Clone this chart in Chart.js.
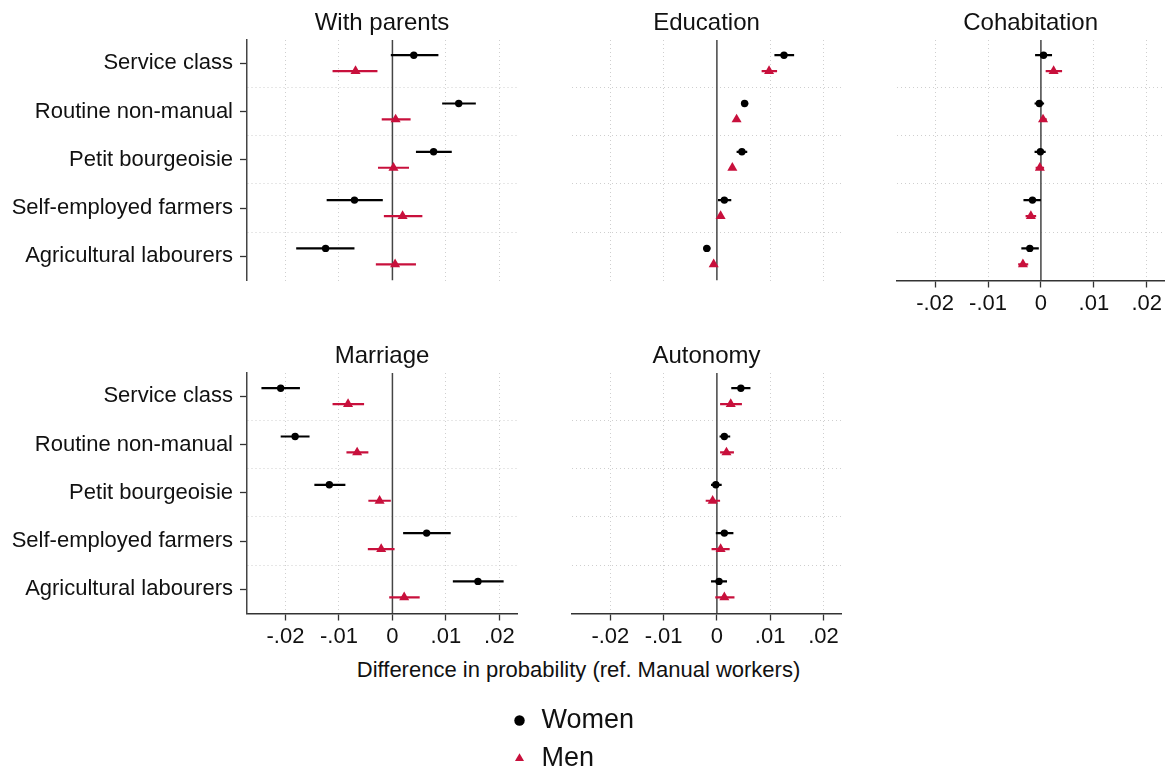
<!DOCTYPE html>
<html>
<head>
<meta charset="utf-8">
<script src="https://cdn.jsdelivr.net/npm/chart.js@4"></script>
<style>
  body { margin: 0; background: #fff; overflow: hidden; width: 1170px; height: 769px; position: relative; font-family: "Liberation Sans", Arial, sans-serif; }
  .panel { position: absolute; }
  #xtitle { position: absolute; left: 0; top: 657px; width: 1157px; text-align: center; font-size: 22px; line-height: 26px; color: #111; white-space: nowrap; }
</style>
</head>
<body>
<div class="panel" style="left:0px;top:0px;width:530px;height:320px"><canvas id="p1"></canvas></div>
<div class="panel" style="left:560px;top:0px;width:290px;height:320px"><canvas id="p2"></canvas></div>
<div class="panel" style="left:885px;top:0px;width:285px;height:320px"><canvas id="p3"></canvas></div>
<div class="panel" style="left:0px;top:333px;width:530px;height:320px"><canvas id="p4"></canvas></div>
<div class="panel" style="left:560px;top:333px;width:290px;height:320px"><canvas id="p5"></canvas></div>
<div id="xtitle">Difference in probability (ref. Manual workers)</div>
<div class="panel" style="left:500px;top:696px;width:200px;height:200px"><canvas id="lg"></canvas></div>
<script>
const categories = ['Service class', 'Routine non-manual', 'Petit bourgeoisie', 'Self-employed farmers', 'Agricultural labourers'];
const xTicks = [-0.02, -0.01, 0, 0.01, 0.02];
const xTickLabels = ['-.02', '-.01', '0', '.01', '.02'];
const yGrid = [0.5, 1.5, 2.5, 3.5];
const xMin = -0.0272, xMax = 0.0233;
const yMin = -0.48, yMax = 4.5;

// With parents
const parentsW   = [0.0040, 0.0124, 0.0077, -0.0071, -0.0125];
const parentsWLo = [-0.0003, 0.0093, 0.0044, -0.0123, -0.0180];
const parentsWHi = [0.0086, 0.0156, 0.0111, -0.0018, -0.0071];
const parentsM   = [-0.0069, 0.0006, 0.0002, 0.0019, 0.0005];
const parentsMLo = [-0.0112, -0.0020, -0.0027, -0.0016, -0.0031];
const parentsMHi = [-0.0028, 0.0034, 0.0031, 0.0056, 0.0044];

// Education
const eduW   = [0.0126, 0.0052, 0.0047, 0.0014, -0.0019];
const eduWLo = [0.0108, 0.0046, 0.0037, 0.0002, -0.0025];
const eduWHi = [0.0145, 0.0059, 0.0057, 0.0027, -0.0012];
const eduM   = [0.0098, 0.0037, 0.0029, 0.0007, -0.0006];
const eduMLo = [0.0084, 0.0033, 0.0025, 0.0004, -0.0009];
const eduMHi = [0.0113, 0.0041, 0.0033, 0.0010, -0.0003];

// Cohabitation
const cohW   = [0.0005, -0.0003, -0.0001, -0.0016, -0.0021];
const cohWLo = [-0.0011, -0.0012, -0.0012, -0.0033, -0.0037];
const cohWHi = [0.0021, 0.0006, 0.0009, 0.0000, -0.0004];
const cohM   = [0.0024, 0.0004, -0.0002, -0.0019, -0.0034];
const cohMLo = [0.0009, -0.0001, -0.0010, -0.0029, -0.0043];
const cohMHi = [0.0040, 0.0011, 0.0006, -0.0009, -0.0024];

// Marriage
const marW   = [-0.0209, -0.0182, -0.0118, 0.0064, 0.0160];
const marWLo = [-0.0245, -0.0209, -0.0146, 0.0020, 0.0113];
const marWHi = [-0.0173, -0.0155, -0.0088, 0.0109, 0.0208];
const marM   = [-0.0083, -0.0066, -0.0024, -0.0021, 0.0022];
const marMLo = [-0.0112, -0.0086, -0.0045, -0.0046, -0.0006];
const marMHi = [-0.0053, -0.0045, -0.0003, 0.0004, 0.0051];

// Autonomy
const autW   = [0.0045, 0.0014, -0.0002, 0.0014, 0.0004];
const autWLo = [0.0027, 0.0005, -0.0011, -0.0002, -0.0011];
const autWHi = [0.0063, 0.0025, 0.0009, 0.0031, 0.0019];
const autM   = [0.0026, 0.0018, -0.0008, 0.0007, 0.0014];
const autMLo = [0.0006, 0.0006, -0.0021, -0.0010, -0.0003];
const autMHi = [0.0047, 0.0032, 0.0006, 0.0024, 0.0033];

const family = '"Liberation Sans", Arial, sans-serif';
Chart.defaults.font.family = family;
Chart.defaults.color = '#111';

const red = '#c8103c';
const gridGrey = '#cfcfcf';
const none = 'rgba(0,0,0,0)';
const offW = -0.165, offM = 0.165;

function makePanel(id, title, w, wLo, wHi, m, mLo, mHi, showX, showY, padL, padR) {
  const datasets = [{
    data: [{x: 0, y: yMin}, {x: 0, y: yMax}], showLine: true,
    borderColor: '#444', borderWidth: 1.5, pointRadius: 0, order: 3
  }];
  categories.forEach((c, i) => {
    datasets.push({ data: [{x: wLo[i], y: i + offW}, {x: wHi[i], y: i + offW}], showLine: true,
      borderColor: '#000', borderWidth: 2.2, pointRadius: 0, order: 2 });
    datasets.push({ data: [{x: mLo[i], y: i + offM}, {x: mHi[i], y: i + offM}], showLine: true,
      borderColor: red, borderWidth: 2.2, pointRadius: 0, order: 2 });
  });
  datasets.push({ label: 'Women', data: w.map((v, i) => ({x: v, y: i + offW})),
    pointStyle: 'circle', pointRadius: 3.7, backgroundColor: '#000', borderColor: '#000', borderWidth: 0, order: 1 });
  datasets.push({ label: 'Men', data: m.map((v, i) => ({x: v, y: i + offM})),
    pointStyle: 'triangle', pointRadius: 5.8, backgroundColor: red, borderColor: red, borderWidth: 0, order: 1 });

  return new Chart(document.getElementById(id), {
    type: 'scatter',
    data: { datasets },
    options: {
      responsive: true,
      maintainAspectRatio: false,
      animation: false,
      events: [],
      layout: { padding: { left: padL, right: padR, top: 0, bottom: 0 } },
      plugins: {
        legend: { display: false },
        tooltip: { enabled: false },
        title: {
          display: true, text: title, fullSize: false,
          font: { size: 24, weight: 'normal', family },
          color: '#111',
          padding: { top: 9.3, bottom: 1.9 }
        }
      },
      scales: {
        x: {
          type: 'linear', min: xMin, max: xMax,
          afterBuildTicks: s => { s.ticks = xTicks.map(v => ({ value: v })); },
          afterFit: s => { s.height = 39.5; },
          ticks: { display: showX, autoSkip: false, maxRotation: 0, padding: 3,
            callback: (v, i) => xTickLabels[i], font: { size: 22 }, color: '#111' },
          grid: {
            color: c => (c.tick && c.tick.value === 0) ? none : gridGrey,
            lineWidth: 1, drawTicks: showX, tickLength: 7, tickColor: '#333', tickWidth: 1.3
          },
          border: { display: showX, color: '#333', width: 1.5, dash: [1, 3] }
        },
        y: {
          type: 'linear', reverse: true, min: yMin, max: yMax,
          afterBuildTicks: s => {
            s.ticks = categories.map((c, i) => i).concat(yGrid).sort((a, b) => a - b).map(v => ({ value: v }));
          },
          afterFit: s => { s.width = showY ? 247 : 0; },
          ticks: { display: showY, autoSkip: false, padding: 7,
            callback: v => Number.isInteger(v) ? categories[v] : '', font: { size: 22 }, color: '#111' },
          grid: {
            color: c => (c.tick && Number.isInteger(c.tick.value)) ? none : gridGrey,
            lineWidth: 1, drawTicks: showY, tickLength: 7,
            tickColor: c => (c.tick && Number.isInteger(c.tick.value)) ? '#333' : none, tickWidth: 1.3
          },
          border: { display: showY, color: '#444', width: 1.5, dash: [1, 3] }
        }
      }
    }
  });
}

makePanel('p1', 'With parents', parentsW, parentsWLo, parentsWHi, parentsM, parentsMLo, parentsMHi, false, true, 0, 13);
makePanel('p2', 'Education', eduW, eduWLo, eduWHi, eduM, eduMLo, eduMHi, false, false, 12, 9);
makePanel('p3', 'Cohabitation', cohW, cohWLo, cohWHi, cohM, cohMLo, cohMHi, true, false, 12, 3);
makePanel('p4', 'Marriage', marW, marWLo, marWHi, marM, marMLo, marMHi, true, true, 0, 13);
makePanel('p5', 'Autonomy', autW, autWLo, autWHi, autM, autMLo, autMHi, true, false, 12, 9);

new Chart(document.getElementById('lg'), {
  type: 'scatter',
  data: {
    datasets: [
      { label: 'Women', data: [], pointStyle: 'circle', backgroundColor: '#000', borderColor: '#000', borderWidth: 0 },
      { label: 'Men', data: [], pointStyle: 'triangle', backgroundColor: red, borderColor: red, borderWidth: 0 }
    ]
  },
  options: {
    responsive: true,
    maintainAspectRatio: false,
    animation: false,
    events: [],
    scales: { x: { display: false }, y: { display: false } },
    plugins: {
      tooltip: { enabled: false },
      legend: {
        display: true, position: 'top', align: 'start',
        labels: { usePointStyle: true, boxWidth: 17, boxHeight: 7.4, padding: 11,
          font: { size: 27 }, color: '#111' }
      }
    }
  }
});
</script>
</body>
</html>
